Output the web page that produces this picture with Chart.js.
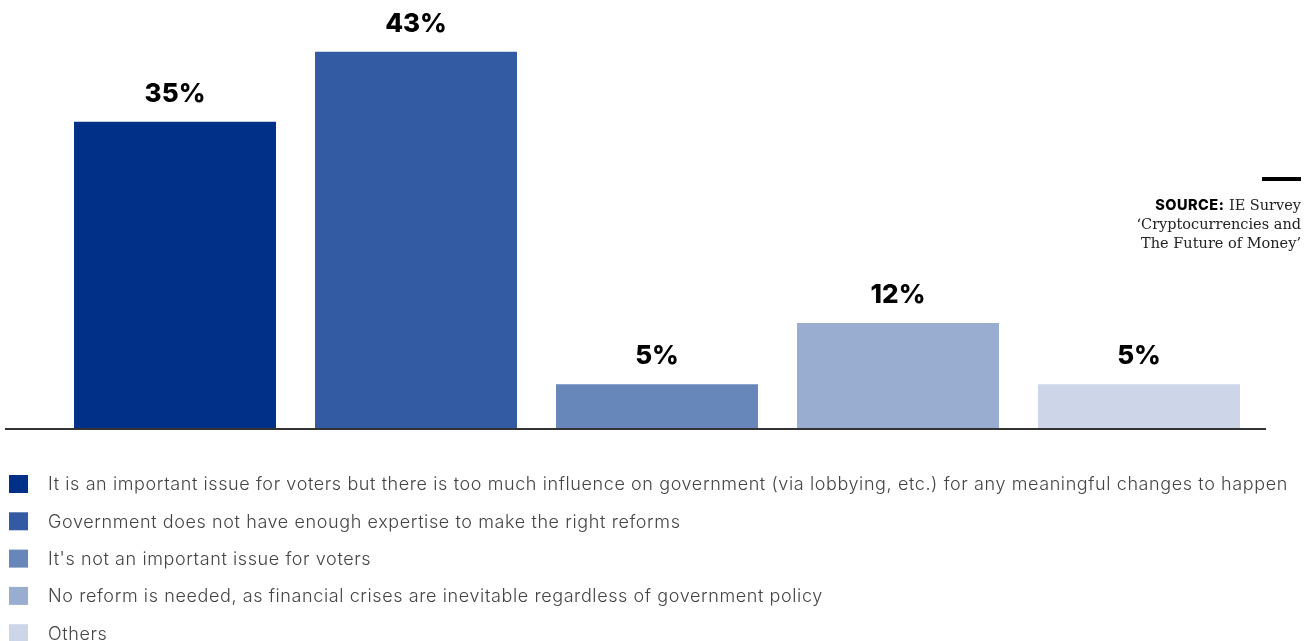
<!DOCTYPE html>
<html>

<head>
    <title>Government reform survey</title>
    <script src="https://cdn.jsdelivr.net/npm/chart.js"></script>
    <style>
        body { margin: 0; background: #fff; }
        #wrap { width: 1314px; height: 641px; position: relative; }
    </style>
</head>

<body>

    <div id="wrap"><canvas id="myChart" width="1314" height="641"></canvas></div>

    <script>
        var answers = [
            'It is an important issue for voters but there is too much influence on government (via lobbying, etc.) for any meaningful changes to happen',
            'Government does not have enough expertise to make the right reforms',
            "It's not an important issue for voters",
            'No reform is needed, as financial crises are inevitable regardless of government policy',
            'Others'
        ];
        var shares = [35, 43, 5, 12, 5];
        var barColors = ['#003087', '#335ba3', '#6787ba', '#99add0', '#ccd6e8'];

        var ctx = document.getElementById('myChart').getContext('2d');

        // labels over bars, the base line, the source note and the legend
        var extras = {
            id: 'extras',
            afterDatasetsDraw(chart) {
                var c = chart.ctx;
                var meta = chart.getDatasetMeta(0);
                c.save();

                c.fillStyle = '#000';
                c.font = '800 26px Inter';
                c.textAlign = 'center';
                c.textBaseline = 'alphabetic';
                meta.data.forEach(function (bar, i) {
                    c.fillText(shares[i] + '%', bar.x, bar.y - 20);
                });

                var base = chart.scales.y.getPixelForValue(0);
                c.strokeStyle = '#333';
                c.lineWidth = 2;
                c.beginPath();
                c.moveTo(5, base + 1);
                c.lineTo(1266, base + 1);
                c.stroke();

                // source
                c.fillStyle = '#000';
                c.fillRect(1262, 177, 39, 4);
                c.textAlign = 'right';
                c.font = '14.5px "DejaVu Serif"';
                var rest = ' IE Survey';
                var restW = c.measureText(rest).width;
                c.fillStyle = '#222';
                c.fillText(rest, 1301, 210);
                c.font = '800 14.5px Inter';
                c.letterSpacing = '0.5px';
                c.fillStyle = '#000';
                c.fillText('SOURCE:', 1301 - restW, 210);
                c.letterSpacing = '0px';
                c.font = '14.5px "DejaVu Serif"';
                c.fillStyle = '#222';
                c.fillText('\u2018Cryptocurrencies and', 1301, 229);
                c.fillText('The Future of Money\u2019', 1301, 248);

                // legend
                c.textAlign = 'left';
                c.textBaseline = 'middle';
                c.font = '300 18px Inter';
                c.letterSpacing = '0.6px';
                answers.forEach(function (txt, i) {
                    var y = 484 + i * 37.3;
                    c.fillStyle = barColors[i];
                    c.fillRect(9, y - 9, 19, 18);
                    c.fillStyle = '#444';
                    c.fillText(txt, 48, y + 1);
                });

                c.restore();
            }
        };

        var myChart = new Chart(ctx, {
            type: 'bar',
            data: {
                labels: answers,
                datasets: [{
                    data: shares,
                    backgroundColor: barColors,
                    borderWidth: 0,
                    barPercentage: 1,
                    categoryPercentage: 0.838
                }]
            },
            options: {
                responsive: false,
                animation: false,
                layout: {
                    padding: { left: 54.5, right: 54.5, top: 8, bottom: 213 }
                },
                scales: {
                    x: { display: false },
                    y: { display: false, min: 0, max: 48 }
                },
                plugins: {
                    legend: { display: false },
                    tooltip: { enabled: false }
                }
            },
            plugins: [extras]
        });
    </script>

</body>

</html>
